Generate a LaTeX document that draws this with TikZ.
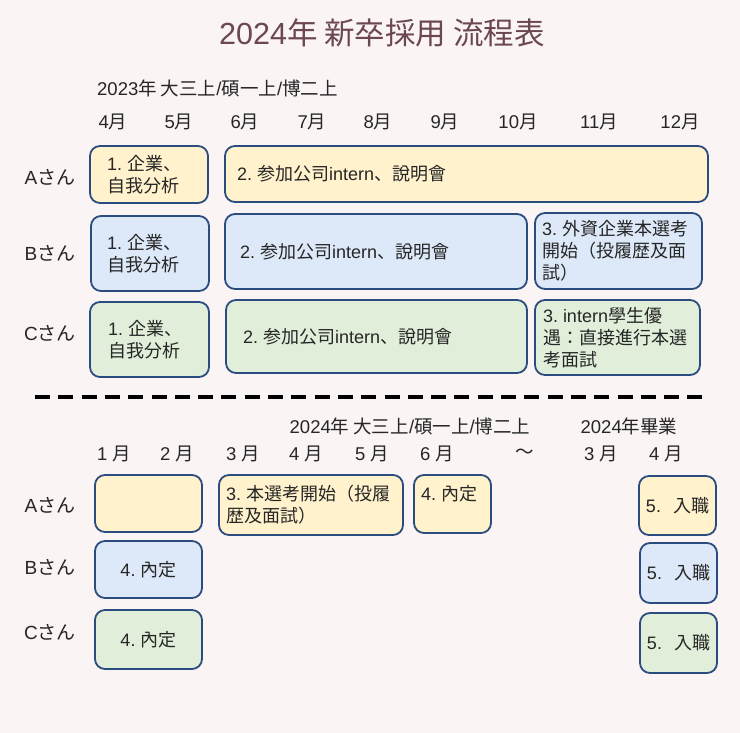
\documentclass[tikz,border=0pt]{standalone}
\usepackage{fontspec}
\setmainfont{Noto Sans CJK JP}
\newfontfamily\latfont{Liberation Sans}
\newcommand\LL[1]{{\latfont #1}}
\newcommand\NN[1]{{\latfont #1.}\hspace{5pt}}
\definecolor{bg}{HTML}{FAF4F4}
\definecolor{ttl}{HTML}{6B474E}
\definecolor{boxline}{HTML}{2B4C7E}
\definecolor{byel}{HTML}{FFF2CC}
\definecolor{bblu}{HTML}{DDE9F8}
\definecolor{bgrn}{HTML}{E1EFDA}
\definecolor{txt}{HTML}{262626}
\newcommand\boxfont{\fontsize{18}{22}\selectfont}
\newcommand\hdrfont{\fontsize{18.5}{21}\selectfont}
\newcommand\labfont{\fontsize{19}{22}\selectfont}
\tikzset{
  box/.style={draw=boxline, line width=1.8pt, rounded corners=10pt, inner sep=0pt, text=txt, font=\boxfont},
  yel/.style={fill=byel}, blu/.style={fill=bblu}, grn/.style={fill=bgrn},
  lab/.style={font=\labfont, text=txt, inner sep=0pt},
  hdr/.style={font=\hdrfont, text=txt, inner sep=0pt},
}
% name, x1, y1, x2, y2, style, pad, text
\newcommand\bx[8]{%
  \pgfmathsetmacro\bw{#4-#2}\pgfmathsetmacro\bh{#5-#3}\pgfmathsetmacro\tw{#4-#2-2*#7}%
  \node[box,#6,minimum width=\bw pt,minimum height=\bh pt,text width=\tw pt] (#1) at ({(#2+#4)/2},{(#3+#5)/2}) {#8};}
\begin{document}
\begin{tikzpicture}[x=1pt,y=-1pt]
\fill[bg] (0,0) rectangle (740,733);
\useasboundingbox (0,0) rectangle (740,733);
% title
\node[text=ttl, font=\fontsize{30.5}{36}\selectfont, inner sep=0pt] (title) at (382,33) {\LL{2024}年 新卒採用 流程表};
% top header
\node[hdr, anchor=west] (h1) at (97,88) {\LL{2023}年 大三上\LL{/}碩一上\LL{/}博二上};
\node[hdr] (m4) at (113,122) {\LL{4}月};
\node[hdr] (m5) at (179,122) {\LL{5}月};
\node[hdr] (m6) at (245,122) {\LL{6}月};
\node[hdr] (m7) at (312,122) {\LL{7}月};
\node[hdr] (m8) at (378,122) {\LL{8}月};
\node[hdr] (m9) at (445,122) {\LL{9}月};
\node[hdr] (m10) at (518,122) {\LL{10}月};
\node[hdr] (m11) at (599,122) {\LL{11}月};
\node[hdr] (m12) at (680,122) {\LL{12}月};
% row labels top
\node[lab] (la1) at (50,177) {\LL{A}さん};
\node[lab] (lb1) at (50,253) {\LL{B}さん};
\node[lab] (lc1) at (50,333) {\LL{C}さん};
% top boxes
\bx{a1}{90}{146}{208}{203}{yel,align=left}{17}{\NN{1}企業、\\自我分析}
\bx{a2}{225}{146}{708}{202}{yel,align=left}{12}{\NN{2}参加公司\LL{intern}、說明會}
\bx{b1}{91}{216}{209}{291}{blu,align=left}{16}{\NN{1}企業、\\自我分析}
\bx{b2}{225}{214}{527}{289}{blu,align=left}{15}{\NN{2}参加公司\LL{intern}、說明會}
\bx{b3}{535}{213}{702}{289}{blu,align=left}{7}{\NN{3}外資企業本選考\\開始（投履歴及面\\試）}
\bx{c1}{90}{302}{209}{377}{grn,align=left}{18}{\NN{1}企業、\\自我分析}
\bx{c2}{226}{300}{527}{373}{grn,align=left}{17}{\NN{2}参加公司\LL{intern}、說明會}
\bx{c3}{535}{300}{700}{375}{grn,align=left}{8}{\NN{3}\LL{intern}學生優\\遇：直接進行本選\\考面試}
% dashed separator
\coordinate (dl) at (35,397);
\coordinate (dr) at (702,397);
\draw[line width=3.5pt, dash pattern=on 15pt off 8.3pt] (dl) -- (dr);
% bottom header
\node[hdr] (h2) at (410,426) {\LL{2024}年 大三上\LL{/}碩一上\LL{/}博二上};
\node[hdr] (h3) at (629,426) {\LL{2024}年畢業};
\node[hdr] (n1) at (114,454) {\LL{1 }月};
\node[hdr] (n2) at (177,454) {\LL{2 }月};
\node[hdr] (n3) at (243,454) {\LL{3 }月};
\node[hdr] (n4) at (306,454) {\LL{4 }月};
\node[hdr] (n5) at (372,454) {\LL{5 }月};
\node[hdr] (n6) at (437,454) {\LL{6 }月};
\node[hdr] (til) at (525,454) {～};
\node[hdr] (n7) at (601,454) {\LL{3 }月};
\node[hdr] (n8) at (666,454) {\LL{4 }月};
% row labels bottom
\node[lab] (la2) at (50,505) {\LL{A}さん};
\node[lab] (lb2) at (50,567) {\LL{B}さん};
\node[lab] (lc2) at (50,632) {\LL{C}さん};
% bottom boxes
\bx{ba1}{95}{475}{202}{532}{yel,align=center}{8}{}
\bx{ba2}{219}{475}{403}{535}{yel,align=left}{7}{\NN{3}本選考開始（投履\\歴及面試）}
\bx{ba3}{414}{475}{491}{533}{yel,align=left}{7}{\NN{4}內定\\\mbox{}}
\bx{ba4}{639}{476}{716}{535}{yel,align=center}{2}{\LL{5.\ \ }入職}
\bx{bb1}{95}{541}{202}{598}{blu,align=center}{8}{\NN{4}內定}
\bx{bb2}{640}{543}{717}{603}{blu,align=center}{2}{\LL{5.\ \ }入職}
\bx{bc1}{95}{610}{202}{669}{grn,align=center}{8}{\NN{4}內定}
\bx{bc2}{640}{613}{717}{673}{grn,align=center}{2}{\LL{5.\ \ }入職}
\end{tikzpicture}
\end{document}
